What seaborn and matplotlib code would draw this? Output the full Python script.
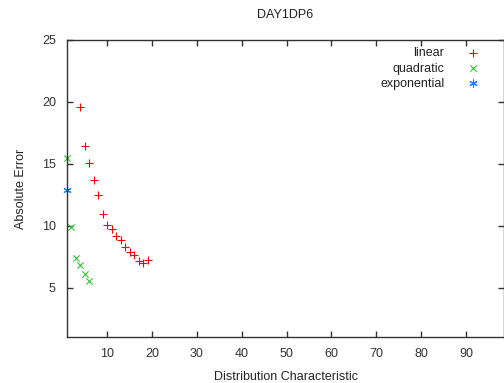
import seaborn as sns
import matplotlib.pyplot as plt
import pandas as pd

linear_x = [4, 5, 6, 7, 8, 9, 10, 11, 12, 13, 14, 15, 16, 17, 18, 19]
linear_y = [19.55, 16.4, 15.1, 13.65, 12.45, 10.95, 10.05, 9.7, 9.2, 8.85,
            8.3, 7.9, 7.6, 7.15, 6.95, 7.25]

quadratic_x = [1, 2, 3, 4, 5, 6]
quadratic_y = [15.45, 9.85, 7.4, 6.8, 6.1, 5.5]

exponential_x = [1]
exponential_y = [12.85]

sns.set_style("ticks")
plt.rcParams['font.family'] = ['Liberation Sans', 'DejaVu Sans']

fig = plt.figure(figsize=(5.04, 3.83), dpi=100)
ax = fig.add_axes([67 / 504, 1 - 337 / 383, 437 / 504, 297 / 383])

df_lin = pd.DataFrame({'x': linear_x, 'y': linear_y})
df_quad = pd.DataFrame({'x': quadratic_x, 'y': quadratic_y})
df_exp = pd.DataFrame({'x': exponential_x, 'y': exponential_y})

series = [
    (df_lin, '+', '#ff0000', 28, 'linear'),
    (df_quad, 'x', '#33c033', 20, 'quadratic'),
    (df_exp, (6, 2, 0), '#1a7fff', 28, 'exponential'),
]
for d, m, c, size, name in series:
    sns.scatterplot(data=d, x='x', y='y', marker=m, color=c, edgecolor=c,
                    s=size, linewidth=0.8, label=name, ax=ax, clip_on=False)

ax.set_xlim(1, 98.5)
ax.set_ylim(1, 25)
ax.set_xticks(range(10, 100, 10))
ax.set_yticks([5, 10, 15, 20, 25])
ax.tick_params(direction='in', top=True, right=True, length=4, width=1,
               labelsize=9, labelcolor='#333333', color='#333333', pad=8)
for s in ax.spines.values():
    s.set_color('#333333')
    s.set_linewidth(1)

ax.set_xlabel('Distribution Characteristic', fontsize=9, color='#222222', labelpad=8)
ax.set_ylabel('Absolute Error', fontsize=9, color='#222222', labelpad=11)
ax.set_title('DAY1DP6', fontsize=9, color='#222222', pad=16)

leg = ax.legend(loc='upper right', frameon=False, markerfirst=False, fontsize=9,
                handletextpad=1.3, labelspacing=0.25, borderaxespad=0.2,
                bbox_to_anchor=(0.975, 1.0))
for t in leg.get_texts():
    t.set_color('#222222')

plt.savefig("out.png", dpi=100)
plt.close()
